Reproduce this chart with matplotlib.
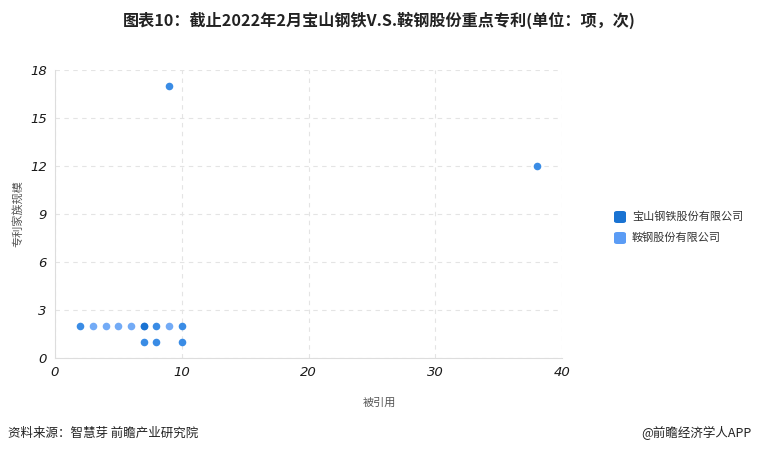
import numpy as np
import matplotlib.pyplot as plt
from matplotlib.patches import FancyBboxPatch

plt.rcParams['font.family'] = ['Noto Sans CJK SC', 'DejaVu Sans']

# 宝山钢铁 / 鞍钢 专利数据 (被引用, 专利家族规模)
bao_x = [2, 8, 10, 7, 8, 10, 9, 38]
bao_y = [2, 2, 2, 1, 1, 1, 17, 12]
an_x = [3, 4, 5, 6, 7, 9]
an_y = [2, 2, 2, 2, 2, 2]
bao_x_extra = [7]
bao_y_extra = [2]

names = ['宝山钢铁股份有限公司', '鞍钢股份有限公司']
colors = ['#1a73d2', '#5b9cf5']

fig = plt.figure(figsize=(7.59, 4.54), dpi=100)
ax = fig.add_axes([0.0725, 0.2115, 0.668, 0.634])

ax.scatter(an_x, an_y, s=30, color=colors[1], alpha=0.85, linewidths=0, zorder=3)
ax.scatter(bao_x, bao_y, s=30, color='#2f86e4', alpha=0.95, linewidths=0, zorder=3)
ax.scatter(bao_x_extra, bao_y_extra, s=30, color=colors[0], linewidths=0, zorder=4)

ax.set_xlim(0, 40)
ax.set_ylim(0, 18)
ax.set_xticks([0, 10, 20, 30, 40])
ax.set_yticks([0, 3, 6, 9, 12, 15, 18])
ax.grid(True, linestyle=(0, (4, 4)), color='#e4e4e4', linewidth=0.8)
ax.set_axisbelow(True)
for s in ['top', 'right']:
    ax.spines[s].set_visible(False)
for s in ['left', 'bottom']:
    ax.spines[s].set_color('#dddddd')
    ax.spines[s].set_linewidth(0.8)
ax.tick_params(length=0, pad=6, labelsize=9.5, labelcolor='#1a1a1a')
for lab in ax.get_xticklabels() + ax.get_yticklabels():
    lab.set_fontstyle('italic')
    lab.set_fontweight('medium')
    lab.set_family('DejaVu Sans')

fig.text(0.5, 1 - 403 / 454, '被引用', fontsize=8, color='#555555',
         ha='center', va='center')
fig.text(18 / 759, 1 - 214 / 454, '专利家族规模', fontsize=8, color='#555555',
         ha='center', va='center', rotation=90)

fig.text(0.5, 0.955, '图表10：截止2022年2月宝山钢铁V.S.鞍钢股份重点专利(单位：项，次)',
         ha='center', va='center', fontsize=11.6, fontweight='bold', color='#222222')

# 图例
for i, (n, c) in enumerate(zip(names, colors)):
    yy = 1 - (217 + i * 21) / 454
    box = FancyBboxPatch((614 / 759, yy - 6 / 454), 12 / 759, 12 / 454,
                         boxstyle='round,pad=0,rounding_size=0.004',
                         transform=fig.transFigure, color=c, linewidth=0)
    fig.add_artist(box)
    fig.text(632 / 759, yy, n, fontsize=8, color='#333333', va='center')

fig.text(8 / 759, 1 - 433 / 454, '资料来源：智慧芽 前瞻产业研究院', fontsize=9,
         color='#222222', va='center')
fig.text(752 / 759, 1 - 433 / 454, '@前瞻经济学人APP', fontsize=9,
         color='#222222', va='center', ha='right')

fig.savefig('out.png', dpi=100)
